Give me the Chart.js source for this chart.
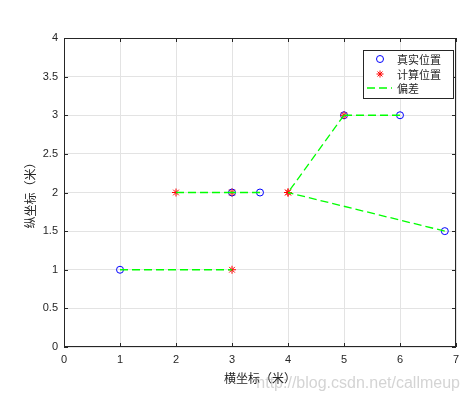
<!DOCTYPE html>
<html lang="zh">
<head>
<meta charset="UTF-8">
<title>位置偏差</title>
<script src="https://cdn.jsdelivr.net/npm/chart.js"></script>
<style>
  html, body { margin: 0; padding: 0; background: #fff; }
  canvas { display: block; }
</style>
</head>
<body>
<canvas id="posChart" width="470" height="397"></canvas>
<script>
// data
const trueX = [1, 3, 3.5, 5, 6, 6.8];
const trueY = [1, 2, 2, 3, 3, 1.5];
const calcX = [3, 2, 3, 4, 5, 4];
const calcY = [1, 2, 2, 2, 3, 2];
const seriesNames = ['真实位置', '计算位置', '偏差'];
const xTitle = '横坐标（米）';
const yTitle = '纵坐标（米）';
const watermark = 'http://blog.csdn.net/callmeup';

const axisColor = '#262626';
const cjk = '"Noto Sans CJK SC", "Liberation Sans", sans-serif';
const latin = '"Liberation Sans", Arial, sans-serif';

const truePts = trueX.map((x, i) => ({ x, y: trueY[i] }));
const calcPts = calcX.map((x, i) => ({ x, y: calcY[i] }));
// one segment per pair, broken with null
const offsetPts = [];
trueX.forEach((x, i) => {
  offsetPts.push({ x, y: trueY[i] });
  offsetPts.push({ x: calcX[i], y: calcY[i] });
  offsetPts.push({ x: calcX[i], y: null });
});

// frame + inward ticks like matlab "box on"
const framePlugin = {
  id: 'frame',
  afterDatasetsDraw(chart) {
    const { ctx, chartArea: a, scales } = chart;
    ctx.save();
    ctx.strokeStyle = axisColor;
    ctx.lineWidth = 1;
    ctx.strokeRect(a.left + 0.5, a.top + 0.5, a.right - a.left - 1, a.bottom - a.top - 1);
    ctx.beginPath();
    scales.x.ticks.forEach(t => {
      const px = Math.round(scales.x.getPixelForValue(t.value)) + 0.5;
      ctx.moveTo(px, a.bottom); ctx.lineTo(px, a.bottom - 4);
      ctx.moveTo(px, a.top); ctx.lineTo(px, a.top + 4);
    });
    scales.y.ticks.forEach(t => {
      const py = Math.round(scales.y.getPixelForValue(t.value)) + 0.5;
      ctx.moveTo(a.left, py); ctx.lineTo(a.left + 4, py);
      ctx.moveTo(a.right, py); ctx.lineTo(a.right - 4, py);
    });
    ctx.stroke();
    ctx.restore();
  }
};

const legendPlugin = {
  id: 'matLegend',
  afterDraw(chart) {
    const ctx = chart.ctx;
    const bx = 363.5, by = 50.5, bw = 90, bh = 48;
    ctx.save();
    ctx.fillStyle = '#fff';
    ctx.fillRect(bx, by, bw, bh);
    ctx.strokeStyle = axisColor;
    ctx.lineWidth = 1;
    ctx.strokeRect(bx, by, bw, bh);
    const rows = [59, 74, 88];
    const sx = 380;
    // circle
    ctx.strokeStyle = '#0000ff';
    ctx.beginPath(); ctx.arc(sx, rows[0], 3.5, 0, Math.PI * 2); ctx.stroke();
    // star
    ctx.strokeStyle = '#ff0000';
    ctx.beginPath();
    for (let k = 0; k < 4; k++) {
      const ang = k * Math.PI / 4;
      ctx.moveTo(sx - 3.5 * Math.cos(ang), rows[1] - 3.5 * Math.sin(ang));
      ctx.lineTo(sx + 3.5 * Math.cos(ang), rows[1] + 3.5 * Math.sin(ang));
    }
    ctx.stroke();
    // dashed line
    ctx.strokeStyle = '#00ff00';
    ctx.lineWidth = 1.3;
    ctx.setLineDash([8, 4]);
    ctx.beginPath(); ctx.moveTo(367, rows[2]); ctx.lineTo(392, rows[2]); ctx.stroke();
    ctx.setLineDash([]);
    ctx.fillStyle = axisColor;
    ctx.font = '11px ' + cjk;
    ctx.textBaseline = 'middle';
    seriesNames.forEach((s, i) => ctx.fillText(s, 397, rows[i] + 0.5));
    ctx.restore();
  }
};

const watermarkPlugin = {
  id: 'watermark',
  beforeDraw(chart) {
    const ctx = chart.ctx;
    ctx.save();
    ctx.fillStyle = '#d4d4d4';
    ctx.font = '16px ' + latin;
    ctx.textAlign = 'right';
    ctx.textBaseline = 'alphabetic';
    ctx.fillText(watermark, 460, 388);
    ctx.restore();
  }
};

new Chart(document.getElementById('posChart'), {
  type: 'scatter',
  data: {
    datasets: [
      {
        label: seriesNames[2],
        data: offsetPts,
        showLine: true,
        spanGaps: false,
        borderColor: '#00ff00',
        borderWidth: 1.3,
        borderDash: [8, 4],
        pointRadius: 0,
        order: 0
      },
      {
        label: seriesNames[1],
        data: calcPts,
        pointStyle: 'star',
        pointRadius: 4,
        borderColor: '#ff0000',
        backgroundColor: '#ff0000',
        pointBorderWidth: 1,
        order: 1
      },
      {
        label: seriesNames[0],
        data: truePts,
        pointStyle: 'circle',
        pointRadius: 3.5,
        borderColor: '#0000ff',
        backgroundColor: 'rgba(0,0,0,0)',
        pointBorderWidth: 1,
        order: 2
      }
    ]
  },
  options: {
    responsive: false,
    animation: false,
    layout: { padding: { top: 38, right: 14, left: 0, bottom: 0 } },
    plugins: { legend: { display: false }, tooltip: { enabled: false } },
    scales: {
      x: {
        type: 'linear',
        min: 0, max: 7,
        ticks: { stepSize: 1, color: axisColor, font: { family: latin, size: 11 }, padding: 6 },
        grid: { color: '#e3e3e3', drawTicks: false },
        border: { display: false },
        title: { display: true, text: xTitle, color: axisColor, font: { family: cjk, size: 12 }, padding: { bottom: 11 } },
        afterFit(s) { s.height = 50; }
      },
      y: {
        type: 'linear',
        min: 0, max: 4,
        ticks: { stepSize: 0.5, color: axisColor, font: { family: latin, size: 11 }, padding: 6, callback: v => String(v) },
        grid: { color: '#e3e3e3', drawTicks: false },
        border: { display: false },
        title: { display: true, text: yTitle, color: axisColor, font: { family: cjk, size: 12 }, padding: { top: 23 } },
        afterFit(s) { s.width = 64; }
      }
    }
  },
  plugins: [watermarkPlugin, framePlugin, legendPlugin]
});
</script>
</body>
</html>
